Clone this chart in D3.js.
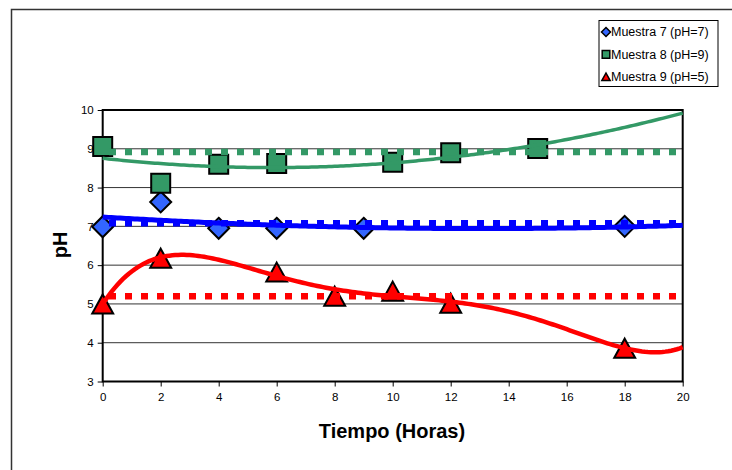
<!DOCTYPE html>
<html>
<head>
<meta charset="utf-8">
<script src="https://cdn.jsdelivr.net/npm/d3@7/dist/d3.min.js"></script>
<style>
  html, body { margin: 0; padding: 0; background: #fff; }
  svg { display: block; font-family: "Liberation Sans", Arial, sans-serif; }
</style>
</head>
<body>
<svg id="chart" width="732" height="470"></svg>
<script>
// Muestras: tiempo (horas) y pH medido
const horas7 = [0, 2, 4, 6, 9, 18];
const ph7    = [6.99, 7.63, 6.95, 6.95, 6.95, 7.0];
const horas8 = [0, 2, 4, 6, 10, 12, 15];
const ph8    = [9.06, 8.11, 8.60, 8.62, 8.65, 8.90, 9.01];
const horas9 = [0, 2, 6, 8, 10, 12, 18];
const ph9    = [5.0, 6.18, 5.82, 5.2, 5.33, 5.02, 3.86];

// Niveles de referencia (líneas punteadas) y orden de la tendencia polinómica
const nivelRef   = [7.08, 8.92, 5.2];
const ordenPoli  = [2, 2, 5];
const nombres    = ["Muestra 7 (pH=7)", "Muestra 8 (pH=9)", "Muestra 9 (pH=5)"];
const xTicks     = [0, 2, 4, 6, 8, 10, 12, 14, 16, 18, 20];
const yTicks     = [3, 4, 5, 6, 7, 8, 9, 10];

const series = [
  { nombre: nombres[0], x: horas7, y: ph7, ref: nivelRef[0], orden: ordenPoli[0],
    marca: "diamond", relleno: "#3366ff", linea: "#0000ff", ancho: 5 },
  { nombre: nombres[1], x: horas8, y: ph8, ref: nivelRef[1], orden: ordenPoli[1],
    marca: "square", relleno: "#339966", linea: "#339966", ancho: 3.5 },
  { nombre: nombres[2], x: horas9, y: ph9, ref: nivelRef[2], orden: ordenPoli[2],
    marca: "triangle", relleno: "#ff0000", linea: "#ff0000", ancho: 4.5 }
];

// Ajuste polinómico por mínimos cuadrados (x normalizado para estabilidad)
function polyfit(xs, ys, orden, escala) {
  const n = orden + 1;
  const A = Array.from({ length: n }, () => new Array(n + 1).fill(0));
  xs.forEach((xv, k) => {
    const t = xv / escala;
    for (let i = 0; i < n; i++) {
      for (let j = 0; j < n; j++) A[i][j] += Math.pow(t, i + j);
      A[i][n] += ys[k] * Math.pow(t, i);
    }
  });
  for (let c = 0; c < n; c++) {
    let p = c;
    for (let r = c + 1; r < n; r++) if (Math.abs(A[r][c]) > Math.abs(A[p][c])) p = r;
    [A[c], A[p]] = [A[p], A[c]];
    for (let r = 0; r < n; r++) {
      if (r === c) continue;
      const f = A[r][c] / A[c][c];
      for (let k = c; k <= n; k++) A[r][k] -= f * A[c][k];
    }
  }
  const coef = A.map((row, i) => row[n] / row[i]);
  return xv => coef.reduce((s, a, i) => s + a * Math.pow(xv / escala, i), 0);
}

const svg = d3.select("#chart");
svg.append("rect").attr("width", 732).attr("height", 470).attr("fill", "#fff");

// Marco exterior
svg.append("path")
  .attr("d", "M11.5,470 V9.5 H732")
  .attr("fill", "none").attr("stroke", "#333").attr("stroke-width", 1.5);

const x = d3.scaleLinear().domain([0, 20]).range([102.7, 682.7]);
const y = d3.scaleLinear().domain([3, 10]).range([381.5, 110]);

// Cuadrícula horizontal
svg.append("g").selectAll("line").data(yTicks.slice(1, -1)).join("line")
  .attr("x1", x(0)).attr("x2", x(20))
  .attr("y1", d => y(d)).attr("y2", d => y(d))
  .attr("stroke", "#333").attr("stroke-width", 1);

// Ejes
const ax = svg.append("g").attr("transform", `translate(0,${y(3)})`)
  .call(d3.axisBottom(x).tickValues(xTicks).tickFormat(d3.format("d"))
    .tickSize(5).tickSizeOuter(0).tickPadding(6));
const ay = svg.append("g").attr("transform", `translate(${x(0)},0)`)
  .call(d3.axisLeft(y).tickValues(yTicks).tickFormat(d3.format("d"))
    .tickSize(5).tickSizeOuter(0).tickPadding(4));
[ax, ay].forEach(g => {
  g.select(".domain").remove();
  g.selectAll("line").attr("stroke", "#000").attr("stroke-width", 1);
  g.selectAll("text").attr("font-size", 11.5).attr("fill", "#000")
    .attr("font-family", "'Liberation Sans', Arial, sans-serif");
});

// Borde del área de trazado
svg.append("rect")
  .attr("x", x(0)).attr("y", y(10))
  .attr("width", x(20) - x(0)).attr("height", y(3) - y(10))
  .attr("fill", "none").attr("stroke", "#000").attr("stroke-width", 2);

// Marcadores
function marca(tipo, s) {
  if (tipo === "diamond") return `M0,${-s} L${s},0 L0,${s} L${-s},0 Z`;
  if (tipo === "square") return `M${-s},${-s} H${s} V${s} H${-s} Z`;
  return `M0,${-s} L${s * 1.1},${s} L${-s * 1.1},${s} Z`;
}

series.forEach(s => {
  svg.append("g").selectAll("path").data(s.x.map((xv, i) => [xv, s.y[i]])).join("path")
    .attr("transform", d => `translate(${x(d[0])},${y(d[1])})`)
    .attr("d", marca(s.marca, s.marca === "diamond" ? 10.5 : 9.5))
    .attr("fill", s.relleno).attr("stroke", "#000").attr("stroke-width", 2)
    .attr("stroke-linejoin", "miter");
});

// Líneas de referencia punteadas y tendencias
const muestras = d3.range(0, 20.001, 0.1);
series.forEach(s => {
  svg.append("line")
    .attr("x1", x(0)).attr("x2", x(20))
    .attr("y1", y(s.ref)).attr("y2", y(s.ref))
    .attr("stroke", s.linea).attr("stroke-width", 6.5)
    .attr("stroke-dasharray", "7,9").attr("stroke-dashoffset", -6.3);
});
series.forEach(s => {
  const f = polyfit(s.x, s.y, s.orden, 20);
  svg.append("path")
    .datum(muestras)
    .attr("d", d3.line().x(d => x(d)).y(d => y(f(d))).curve(d3.curveLinear))
    .attr("fill", "none").attr("stroke", s.linea).attr("stroke-width", s.ancho)
    .attr("stroke-linecap", "butt");
});

// Títulos de ejes
svg.append("text").attr("x", 392).attr("y", 438)
  .attr("text-anchor", "middle").attr("font-size", 20).attr("font-weight", "bold")
  .text("Tiempo (Horas)");
svg.append("text").attr("transform", "translate(67,245) rotate(-90)")
  .attr("text-anchor", "middle").attr("font-size", 20).attr("font-weight", "bold")
  .text("pH");

// Leyenda
const ley = svg.append("g");
ley.append("rect").attr("x", 599).attr("y", 20.5).attr("width", 119).attr("height", 66)
  .attr("fill", "#fff").attr("stroke", "#000").attr("stroke-width", 1);
series.forEach((s, i) => {
  const cy = 32 + i * 22.4;
  ley.append("path").attr("transform", `translate(606,${cy})`)
    .attr("d", marca(s.marca, s.marca === "diamond" ? 4.5 : 3.8))
    .attr("fill", s.relleno).attr("stroke", "#000").attr("stroke-width", 1.5);
  ley.append("text").attr("x", 611).attr("y", cy + 4.3)
    .attr("font-size", 12.5).attr("fill", "#000").text(s.nombre);
});
</script>
</body>
</html>
